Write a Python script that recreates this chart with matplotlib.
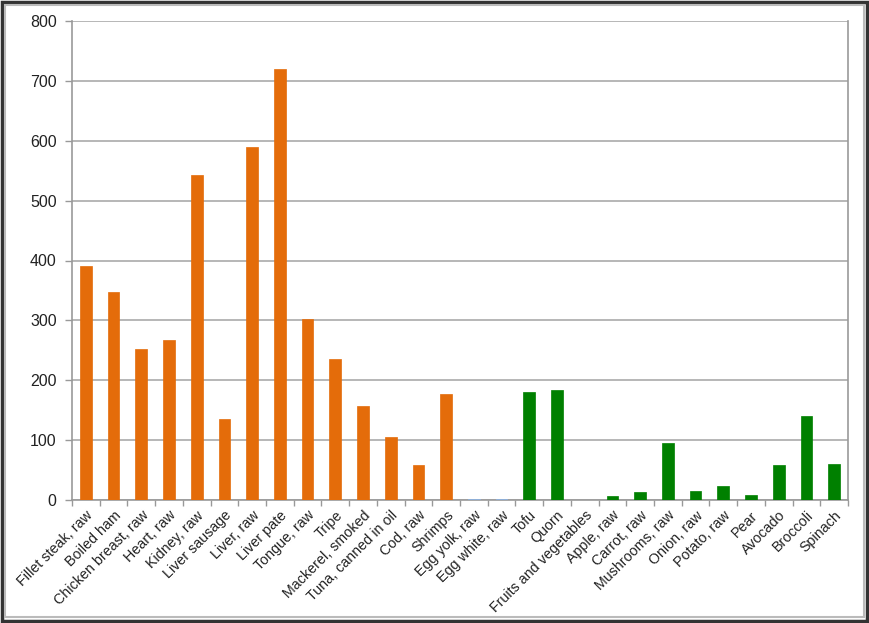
import matplotlib
matplotlib.use("Agg")
import matplotlib.pyplot as plt
from matplotlib.patches import Rectangle
import numpy as np

categories = ["Fillet steak, raw", "Boiled ham", "Chicken breast, raw", "Heart, raw",
              "Kidney, raw", "Liver sausage", "Liver, raw", "Liver pate", "Tongue, raw",
              "Tripe", "Mackerel, smoked", "Tuna, canned in oil", "Cod, raw", "Shrimps",
              "Egg yolk, raw", "Egg white, raw", "Tofu", "Quorn", "Fruits and vegetables",
              "Apple, raw", "Carrot, raw", "Mushrooms, raw", "Onion, raw", "Potato, raw",
              "Pear", "Avocado", "Broccoli", "Spinach"]
values = [390, 347, 253, 268, 542, 136, 590, 720, 303, 235, 157, 105, 59, 177,
          1, 2, 181, 184, 0, 6, 14, 96, 15, 23, 9, 58, 140, 60]
groups = ["meat"] * 14 + ["egg"] * 2 + ["veg"] * 12
group_colors = {"meat": "#E46C0A", "egg": "#8DB3E2", "veg": "#008000"}
yticks = [0, 100, 200, 300, 400, 500, 600, 700, 800]

plt.rcParams['font.family'] = ['Liberation Sans', 'DejaVu Sans']
fig = plt.figure(figsize=(8.69, 6.23), dpi=100)
ax = fig.add_axes([72 / 869, 1 - 500 / 623, (848 - 72) / 869, (500 - 21) / 623])

x = np.arange(len(categories))
cols = [group_colors[g] for g in groups]
ax.bar(x, values, width=0.42, color=cols, edgecolor=cols, linewidth=0.5, zorder=3)

ax.set_xlim(-0.5, len(categories) - 0.5)
ax.set_ylim(0, 800)
ax.set_yticks(yticks)
ax.set_yticklabels([str(v) for v in yticks], fontsize=11.5, color="#222222")
ax.yaxis.grid(True, color="#AAAAAA", linewidth=1.2, zorder=0)
ax.set_axisbelow(True)

ax.set_xticks(x)
ax.set_xticklabels(categories, rotation=45, ha="right", rotation_mode="anchor",
                   fontsize=10.3, color="#222222")
ax.tick_params(axis="x", which="major", length=0, pad=6)
ax.set_xticks(np.arange(len(categories) + 1) - 0.5, minor=True)
ax.tick_params(axis="x", which="minor", length=4, color="#999999", width=1)
ax.tick_params(axis="y", length=5, color="#999999", width=1, pad=6)

for s in ["left", "bottom", "right"]:
    ax.spines[s].set_color("#999999")
    ax.spines[s].set_linewidth(1.2)
ax.spines["top"].set_visible(False)

fig.patches.append(Rectangle((0.002, 0.003), 0.996, 0.994, transform=fig.transFigure,
                             fill=False, edgecolor="#333333", linewidth=2.5))
fig.patches.append(Rectangle((0.006, 0.009), 0.988, 0.983, transform=fig.transFigure,
                             fill=False, edgecolor="#BBBBBB", linewidth=1.5))

fig.savefig("out.png", dpi=100)
